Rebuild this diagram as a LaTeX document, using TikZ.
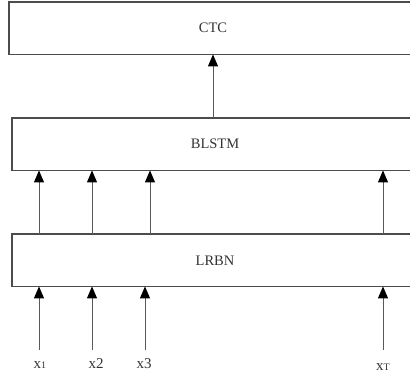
\documentclass[tikz,border=0pt]{standalone}
\usepackage{fontspec}
\setmainfont{Liberation Serif}
\usetikzlibrary{arrows.meta}
\begin{document}
\begin{tikzpicture}[x=1pt,y=-1pt,
  layer/.style={minimum width=420pt,minimum height=52pt,
    inner sep=0pt,anchor=north west},
  edge/.style={draw=black!70,line width=1.1pt},
  arr/.style={draw=black!65,line width=1pt,-{Triangle[width=10pt,length=12pt,color=black]}},
  ttl/.style={font=\fontsize{14.5}{16}\selectfont,text=black!80},
  lbl/.style={font=\fontsize{15}{17}\selectfont,text=black!80,inner sep=0pt}]
\useasboundingbox (0,0) rectangle (410,376);
\clip (0,0) rectangle (410,376);
\fill[white] (0,0) rectangle (410,376);
\node[layer] (ctc) at (9,2) {};
\node[layer] (blstm) at (12,118) {};
\node[layer] (lrbn) at (12,234) {};
\foreach \b in {ctc,blstm,lrbn}
  \draw[edge] (\b.north east) -- (\b.north west) -- (\b.south west) -- (\b.south east);
\node[ttl] (tctc) at (213,28) {CTC};
\node[ttl] (tblstm) at (215,144) {BLSTM};
\node[ttl] (tlrbn) at (215,261) {LRBN};
% columns
\coordinate (c1) at (39,0);
\coordinate (c2) at (92,0);
\coordinate (c3) at (150,0);
\coordinate (c4) at (383,0);
\coordinate (ctop) at (213,0);
\draw[arr] (blstm.north -| ctop) -- (ctc.south -| ctop);
\foreach \c in {c1,c2,c3,c4}
  \draw[arr] (lrbn.north -| \c) -- (blstm.south -| \c);
\coordinate (i1) at (39,350);
\coordinate (i2) at (92,350);
\coordinate (i3) at (145,350);
\coordinate (i4) at (383,350);
\foreach \c in {i1,i2,i3,i4}
  \draw[arr] (\c) -- (lrbn.south -| \c);
\node[lbl] (x1) at (40,365) {x{\fontsize{10}{10}\selectfont 1}};
\node[lbl] (x2) at (96,364) {x2};
\node[lbl] (x3) at (144,364) {x3};
\node[lbl] (xT) at (383,367) {x{\fontsize{10}{10}\selectfont T}};
\end{tikzpicture}
\end{document}
